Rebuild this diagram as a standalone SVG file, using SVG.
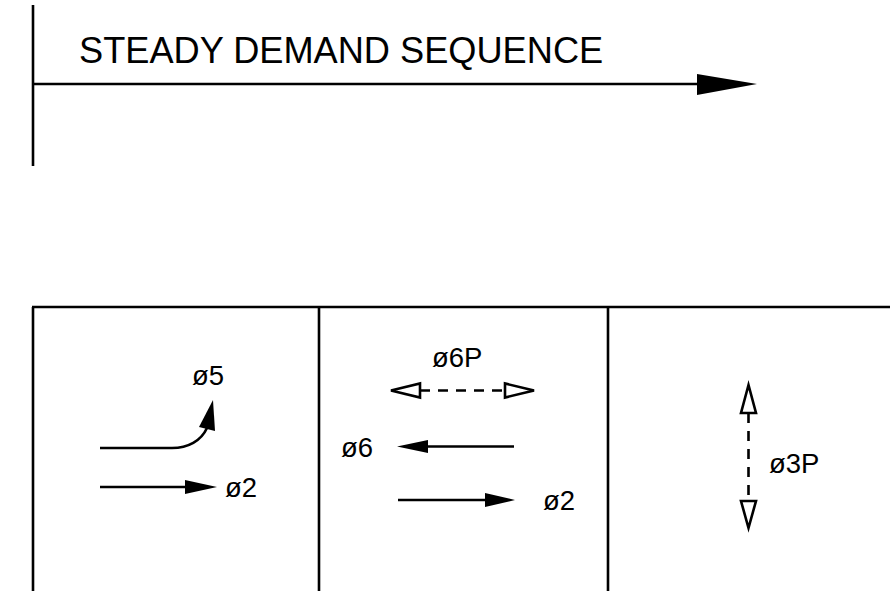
<svg xmlns="http://www.w3.org/2000/svg" width="890" height="591" viewBox="0 0 890 591">
<style>
.ln{stroke:#000;stroke-width:2.6;fill:none}
.fr{stroke:#000;stroke-width:2.6;fill:none}
.ds{stroke:#000;stroke-width:2.6;fill:none;stroke-dasharray:10 8}
.hd{fill:#000;stroke:none}
.ho{fill:#fff;stroke:#000;stroke-width:2.6;stroke-linejoin:miter}
.t{font-family:"Liberation Sans",Arial,sans-serif;fill:#000}
.lb{font-size:27.5px}
</style>
<rect width="890" height="591" fill="#fff"/>
<g id="title">
<line class="ln" x1="33" y1="5" x2="33" y2="166"/>
<line class="ln" x1="33" y1="84" x2="700" y2="84"/>
<polygon class="hd" points="757,84 697,74 697,95"/>
<text class="t" x="79" y="63" font-size="36.2">STEADY DEMAND SEQUENCE</text>
</g>
<g id="frame">
<line class="fr" x1="32" y1="307" x2="890" y2="307"/>
<line class="fr" x1="33" y1="307" x2="33" y2="591"/>
<line class="fr" x1="319" y1="307" x2="319" y2="591"/>
<line class="fr" x1="608" y1="307" x2="608" y2="591"/>
</g>
<g id="connectors">
<path class="ln" d="M100,448 L172,448 C188,448 201,441 207,428"/>
<polygon class="hd" points="213,400 199,427 215,431"/>
<line class="ln" x1="100" y1="487" x2="190" y2="487"/>
<polygon class="hd" points="217,487 185,480 185,494"/>
<line class="ds" x1="420" y1="390.5" x2="505" y2="390.5" stroke-dasharray="4 6 9 7 9 7 9 7 9 7 9"/>
<polygon class="ho" points="391,390.5 420,383.5 420,397.5"/>
<polygon class="ho" points="534,390.5 505,383.5 505,397.5"/>
<line class="ln" x1="514" y1="446.5" x2="425" y2="446.5"/>
<polygon class="hd" points="397,446.5 428,440 428,453"/>
<line class="ln" x1="398" y1="500" x2="490" y2="500"/>
<polygon class="hd" points="515,500 485,493 485,507"/>
<line class="ds" x1="748.5" y1="413" x2="748.5" y2="501" stroke-dasharray="5 9 11 9 11 9 11 9 11"/>
<polygon class="ho" points="748.5,385 741,413 756,413"/>
<polygon class="ho" points="748.5,528 741,501 756,501"/>
</g>
<g id="labels">
<text class="t lb" x="192" y="385">ø5</text>
<text class="t lb" x="225" y="497">ø2</text>
<text class="t lb" x="432" y="367">ø6P</text>
<text class="t lb" x="341" y="457">ø6</text>
<text class="t lb" x="543" y="510">ø2</text>
<text class="t lb" x="769" y="473">ø3P</text>
</g>
</svg>
